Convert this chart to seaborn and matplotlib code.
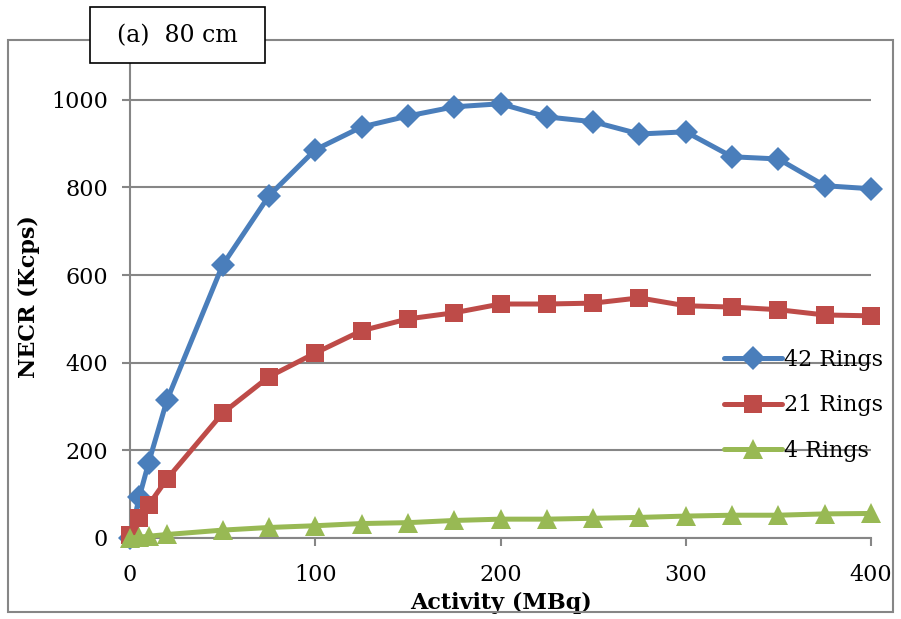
import numpy as np
import pandas as pd
import matplotlib
matplotlib.use("Agg")
import matplotlib.pyplot as plt
from matplotlib.patches import Rectangle
import seaborn as sns

# Activity (MBq) and NECR (Kcps) for each ring configuration
activity = [0, 5, 10, 20, 50, 75, 100, 125, 150, 175, 200, 225, 250, 275, 300, 325, 350, 375, 400]
rings42 = [0, 93, 171, 315, 623, 781, 886, 938, 963, 984, 991, 961, 950, 922, 927, 870, 865, 804, 797]
rings21 = [7, 46, 75, 135, 285, 368, 422, 473, 500, 514, 534, 534, 536, 548, 530, 527, 521, 509, 507]
rings4 = [0, 2, 4, 8, 18, 24, 28, 33, 35, 40, 43, 43, 45, 47, 50, 52, 52, 55, 56]
series_names = ["42 Rings", "21 Rings", "4 Rings"]
y_ticks = [0, 200, 400, 600, 800, 1000]
x_ticks = [0, 100, 200, 300, 400]

df = pd.DataFrame({
    "Activity": activity * 3,
    "NECR": rings42 + rings21 + rings4,
    "Series": np.repeat(series_names, len(activity)),
})

sns.set_style("white")
plt.rcParams["font.family"] = ["DejaVu Serif"]
plt.rcParams["text.color"] = "black"
plt.rcParams["axes.labelcolor"] = "black"

fig = plt.figure(figsize=(9.01, 6.19), dpi=100)
ax = fig.add_axes([130 / 901, 1 - 538 / 619, 741 / 901, 482 / 619])

palette = {"42 Rings": "#4a7ebb", "21 Rings": "#be4b48", "4 Rings": "#98b954"}
markers = {"42 Rings": "D", "21 Rings": "s", "4 Rings": "^"}
sizes = {"42 Rings": 12, "21 Rings": 13, "4 Rings": 14}

for name in series_names:
    sub = df[df["Series"] == name]
    sns.lineplot(data=sub, x="Activity", y="NECR", ax=ax, color=palette[name],
                 marker=markers[name], markersize=sizes[name], markeredgewidth=0,
                 linewidth=3.6, label=name, sort=False, clip_on=False, zorder=3)

ax.set_xlim(0, 400)
ax.set_ylim(0, 1100)
ax.set_xticks(x_ticks)
ax.set_yticks(y_ticks)
ax.tick_params(axis="both", labelsize=16, colors="#868686", length=6, width=1.5,
               direction="out", bottom=True, left=True, labelcolor="black")
ax.tick_params(axis="x", pad=13)
ax.tick_params(axis="y", pad=10)
ax.grid(axis="y", color="#868686", linewidth=1.5)
ax.grid(axis="x", visible=False)
for side in ["top", "right"]:
    ax.spines[side].set_visible(False)
for side in ["left", "bottom"]:
    ax.spines[side].set_color("#868686")
    ax.spines[side].set_linewidth(1.5)

ax.set_xlabel("Activity (MBq)", fontsize=16, fontweight="bold", labelpad=4)
ax.set_ylabel("NECR (Kcps)", fontsize=16, fontweight="bold", labelpad=8)

leg = ax.legend(loc="center left", bbox_to_anchor=(0.775, 0.275), frameon=False,
                fontsize=16, handlelength=2.6, handletextpad=0.1, labelspacing=1.05)

# outer chart frame and title box
fig.patches.append(Rectangle((8 / 901, 1 - 612 / 619), 885 / 901, 572 / 619,
                             transform=fig.transFigure, fill=False,
                             edgecolor="#868686", linewidth=1.5, zorder=0))
fig.patches.append(Rectangle((90 / 901, 1 - 63 / 619), 175 / 901, 56 / 619,
                             transform=fig.transFigure, facecolor="white",
                             edgecolor="black", linewidth=1.2, zorder=5))
fig.text(177 / 901, 1 - 36 / 619, "(a)  80 cm", fontsize=17, ha="center", va="center",
         zorder=6)

fig.savefig("out.png", dpi=100)
